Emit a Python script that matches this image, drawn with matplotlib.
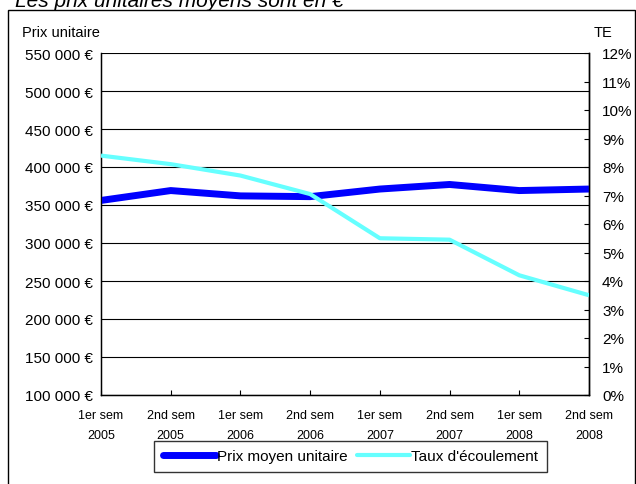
import matplotlib
matplotlib.use("Agg")
import matplotlib.pyplot as plt
from matplotlib.patches import Rectangle
from matplotlib.ticker import FixedLocator, FuncFormatter

plt.rcParams['font.family'] = ['Liberation Sans', 'DejaVu Sans']

# Data
periods = ["1er sem\n2005", "2nd sem\n2005", "1er sem\n2006", "2nd sem\n2006",
           "1er sem\n2007", "2nd sem\n2007", "1er sem\n2008", "2nd sem\n2008"]
prix_moyen = [356000, 369000, 362000, 361000, 371000, 377000, 369000, 371000]
taux_ecoulement = [8.4, 8.1, 7.7, 7.05, 5.5, 5.45, 4.2, 3.5]
prix_ticks = [100000, 150000, 200000, 250000, 300000, 350000, 400000, 450000, 500000, 550000]
te_ticks = list(range(0, 13))

W, H = 636, 485
fig = plt.figure(figsize=(W / 100, H / 100), dpi=100)

def px(x, y):
    return x / W, 1 - y / H

# outer frame
fig.patches.append(Rectangle(px(8, 520), (635 - 8) / W, (520 - 11) / H,
                             transform=fig.transFigure, fill=False,
                             edgecolor='black', linewidth=1.0, zorder=0))

# title partly above the frame
fig.text(*px(15, 7), "Les prix unitaires moyens sont en €", fontsize=15,
         fontstyle='italic', ha='left', va='baseline')

left, right, top, bottom = 101, 589, 54, 396
ax = fig.add_axes([left / W, 1 - bottom / H, (right - left) / W, (bottom - top) / H])
x = list(range(len(periods)))

ax.plot(x, prix_moyen, color='#0000ff', linewidth=5, solid_capstyle='butt',
        solid_joinstyle='round', zorder=3)
ax.set_xlim(0, len(periods) - 1)
ax.set_ylim(100000, 550000)
ax.yaxis.set_major_locator(FixedLocator(prix_ticks))
ax.yaxis.set_major_formatter(FuncFormatter(lambda v, p: f"{int(v):,} €".replace(",", " ")))
ax.grid(axis='y', color='black', linewidth=0.8)
ax.set_axisbelow(True)
ax.tick_params(axis='y', length=0, pad=6.0, labelsize=11)
ax.set_xticks(x)
ax.set_xticklabels(periods, fontsize=9, linespacing=1.85)
ax.tick_params(axis='x', direction='in', length=3.5, width=0.8, pad=10)
for s in ax.spines.values():
    s.set_linewidth(1.0)
ax.spines['top'].set_visible(False)

ax2 = ax.twinx()
ax2.plot(x, taux_ecoulement, color='#66ffff', linewidth=3, solid_capstyle='butt',
         solid_joinstyle='round', zorder=3)
ax2.set_ylim(0, 12)
ax2.yaxis.set_major_locator(FixedLocator(te_ticks))
ax2.yaxis.set_major_formatter(FuncFormatter(lambda v, p: f"{int(v)}%"))
ax2.tick_params(axis='y', direction='in', length=3.5, width=0.8, pad=9.4, labelsize=11)
ax2.spines['top'].set_visible(False)
ax2.spines['right'].set_linewidth(1.0)

fig.text(*px(22, 33), "Prix unitaire", fontsize=10.5, ha='left', va='center')
fig.text(*px(594, 33), "TE", fontsize=10.5, ha='left', va='center')

h1 = ax.get_lines()[0]
h2 = ax2.get_lines()[0]
leg = fig.legend([h1, h2], ["Prix moyen unitaire", "Taux d'écoulement"],
                 loc='center', bbox_to_anchor=(350.5 / W, 1 - 457.5 / H), ncol=2,
                 fontsize=11, frameon=True, fancybox=False, shadow=False,
                 handlelength=3.5, handletextpad=0.07, columnspacing=0.6,
                 borderpad=0.55, borderaxespad=0)
leg.get_frame().set_edgecolor('black')
leg.get_frame().set_linewidth(1.0)
for lh in leg.get_lines():
    lh.set_solid_capstyle('round')

fig.savefig("out.png", dpi=100)
